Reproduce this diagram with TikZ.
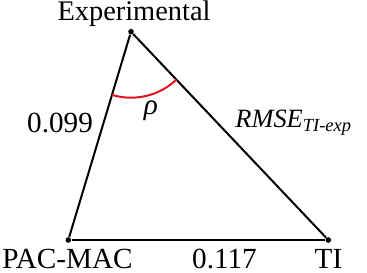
\documentclass[tikz,border=0pt]{standalone}
\usepackage{fontspec}
\setmainfont{Liberation Serif}
\usetikzlibrary{angles}
\definecolor{anglered}{HTML}{E0141E}
\definecolor{edgeblack}{HTML}{000000}
\tikzset{
  vertex/.style={
    circle,
    fill=edgeblack,
    inner sep=0pt,
    minimum size=2.8pt,
  },
  edge/.style={
    line width=1pt,
    draw=edgeblack,
  },
  vlabel/.style={
    font=\fontsize{14.6}{16}\selectfont,
    inner sep=0pt,
    anchor=base,
  },
  elabel/.style={
    vlabel,
    font=\fontsize{13.2}{15}\selectfont\itshape,
  },
  anglearc/.style={
    draw=anglered,
    line width=1pt,
    angle radius=33pt,
  },
}

\begin{document}
\begin{tikzpicture}[x=0.5pt, y=0.5pt]

\useasboundingbox (0,0) rectangle (367,272);

% === Vertices ===

\node[vertex] (exp) at (131,240.3) {};
\node[vertex] (pac) at (68.3,32) {};
\node[vertex] (ti) at (328.3,32) {};

\draw[edge] (exp) -- (pac);
\draw[edge] (pac) -- (ti);
\draw[edge] (ti) -- (exp);

% Angle at the experimental vertex
\pic[anglearc] {angle = pac--exp--ti};

% === Labels ===

\node[vlabel, font=\fontsize{14.2}{16}\selectfont] (explabel) at (134,251.5) {Experimental};
\node[vlabel] (paclabel) at (67.5,4) {PAC-MAC};
\node[vlabel] (tilabel) at (328.5,4) {TI};

\node[vlabel] (pacti) at (224.5,4) {0.117};
\node[vlabel] (pacexp) at (60,139) {0.099};
\node[elabel, font=\fontsize{14.6}{16}\selectfont\itshape] (rho) at (151,157) {ρ};
\node[elabel, anchor=base west] (tiexp) at (235,144)
  {RMSE\textsubscript{TI-exp}};

\end{tikzpicture}
\end{document}
